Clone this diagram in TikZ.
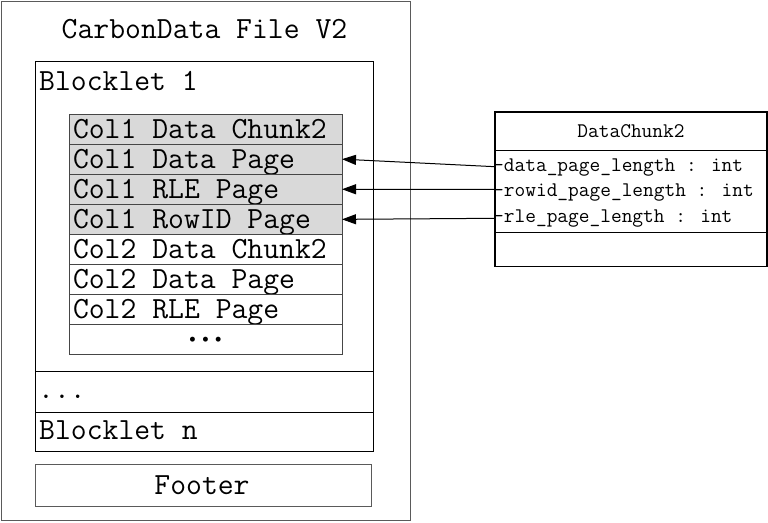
\documentclass[tikz,border=0pt]{standalone}
\usetikzlibrary{arrows.meta}
\definecolor{rowgray}{RGB}{217,217,217}
\definecolor{edgegray}{RGB}{70,70,70}
\definecolor{outergray}{RGB}{90,90,90}
\newcommand{\rowtxt}[1]{\spaceskip=0pt\relax\xspaceskip=0pt\relax#1}
\tikzset{
  box/.style={draw=black, line width=1pt, inner sep=0pt},
  bigtxt/.style={font=\ttfamily\fontsize{30.8}{31}\selectfont, inner sep=0pt},
  smalltxt/.style={font=\ttfamily\fontsize{20.8}{21}\selectfont, inner sep=0pt},
  rowbox/.style={draw=edgegray, line width=1pt, minimum height=30.1pt,
    text width=265pt, inner xsep=4pt, inner ysep=0pt, outer sep=0pt, align=left,
    text height=24pt, text depth=6.1pt, font=\ttfamily\fontsize{30.8}{31}\selectfont},
  shaded/.style={rowbox, fill=rowgray},
  ptr/.style={line width=1pt, -{Triangle[length=14pt,width=10pt]}}
}
\begin{document}
\begin{tikzpicture}[x=1pt,y=-1pt]
\useasboundingbox[fill=white] (0,0) rectangle (768,522);
% outer file box
\draw[draw=outergray, line width=1pt] (1,1) rectangle (410,520);
\node (file) at (205.5,260.5) {};
\node[bigtxt, anchor=base] (title) at (204.5,38.5) {CarbonData File V2};
% blocklets
\draw[box] (35,61) rectangle (373,371);
\node[bigtxt, anchor=base west] (b1) at (39,90) {Blocklet 1};
\draw[box] (35,371) rectangle (373,412);
\node[bigtxt, anchor=base west] (bdots) at (38,398) {...};
\draw[box] (35,412) rectangle (373,451.5);
\node[bigtxt, anchor=base west] (bn) at (39,439) {Blocklet n};
\draw[draw=outergray, line width=1pt] (35,464) rectangle (371,506);
\node[bigtxt, anchor=base] (footer) at (202,494) {Footer};
% rows
\node[shaded] (r1) at (205.5,129.05) {\rowtxt{Col1 Data Chunk2}};
\node[shaded, anchor=north] (r2) at (r1.south) {\rowtxt{Col1 Data Page}};
\node[shaded, anchor=north] (r3) at (r2.south) {\rowtxt{Col1 RLE Page}};
\node[shaded, anchor=north] (r4) at (r3.south) {\rowtxt{Col1 RowID Page}};
\node[rowbox, anchor=north] (r5) at (r4.south) {\rowtxt{Col2 Data Chunk2}};
\node[rowbox, anchor=north] (r6) at (r5.south) {\rowtxt{Col2 Data Page}};
\node[rowbox, anchor=north] (r7) at (r6.south) {\rowtxt{Col2 RLE Page}};
\node[rowbox, anchor=north] (r8) at (r7.south) {};
\node[inner sep=0pt] (rdots) at ([yshift=-2pt]r8.center) {\fontsize{22}{22}\selectfont\textbullet\hspace{-3pt}\textbullet\hspace{-3pt}\textbullet};
% class box
\draw[line width=1.4pt] (495,112) rectangle (767,266.7);
\draw[line width=1.4pt] (495,150.7) -- (767,150.7);
\draw[line width=1.4pt] (495,232.7) -- (767,232.7);
\node[smalltxt, anchor=base] (cls) at (631,137.7) {DataChunk2};
\node[smalltxt, anchor=base west] (at1) at (493,171.7) {-data\_page\_length : int};
\node[smalltxt, anchor=base west] (at2) at (493,196.7) {-rowid\_page\_length : int};
\node[smalltxt, anchor=base west] (at3) at (493,222.7) {-rle\_page\_length : int};
\coordinate (s1) at (495,166.7);
\coordinate (s2) at (495,189.3);
\coordinate (s3) at (495,218.3);
\draw[ptr] (s1) -- (r2.east);
\draw[ptr] (s2) -- (r3.east);
\draw[ptr] (s3) -- (r4.east);
\end{tikzpicture}
\end{document}
